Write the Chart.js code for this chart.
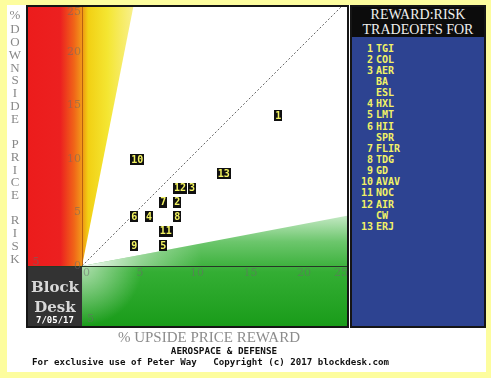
<!DOCTYPE html>
<html><head><meta charset="utf-8">
<script src="https://cdn.jsdelivr.net/npm/chart.js@4.4.0/dist/chart.umd.min.js"></script>
<style>
html,body{margin:0;padding:0;}
body{width:491px;height:378px;overflow:hidden;background:#fdfd9e;position:relative;}
#inner{position:absolute;left:7px;top:5px;width:479px;height:367px;background:#fff;}
#c{position:absolute;left:0;top:0;}
.abs{position:absolute;white-space:pre;}
.vch{position:absolute;left:5px;width:20px;text-align:center;font:13px "Liberation Serif",serif;color:#888;line-height:13px;height:13px;}
#legend{left:350px;top:5px;width:132px;height:319px;border:2px solid #151515;background:#2d4391;}
#lhead{position:absolute;left:0;top:0;width:132px;height:30px;background:#0c0c0c;color:#f0f0f0;font:14px "Liberation Serif",serif;text-align:center;line-height:15px;padding-top:0px;}
.lrow{position:absolute;height:11px;line-height:11px;font:bold 10px "DejaVu Sans Mono",monospace;color:#f2f266;}
.lnum{position:absolute;right:111px;text-align:right;}
.ltk{position:absolute;left:24px;}
#bd{left:28px;top:277px;width:54px;text-align:center;color:#d8d8d8;font:bold 15px "DejaVu Serif",serif;line-height:20px;}
#bdate{left:28px;top:315px;width:54px;text-align:center;color:#fff;font:bold 9px "DejaVu Sans Mono",monospace;}
#xt{left:0;top:329px;width:418px;text-align:center;font:15px "Liberation Serif",serif;color:#8c8c8c;}
#sub{left:0;top:345px;width:448px;text-align:center;font:bold 9.3px "DejaVu Sans Mono",monospace;color:#111;}
#copy{left:32px;top:357px;font:bold 9.15px "DejaVu Sans Mono",monospace;color:#111;}
</style></head>
<body>
<div id="inner"></div>
<canvas id="c" width="491" height="378"></canvas>
<div id="legend" class="abs"><div id="lhead">REWARD:RISK<br>TRADEOFFS FOR</div></div>
<div id="bd" class="abs">Block<br>Desk</div>
<div id="bdate" class="abs">7/05/17</div>
<div id="xt" class="abs">% UPSIDE PRICE REWARD</div>
<div id="sub" class="abs">AEROSPACE &amp; DEFENSE</div>
<div id="copy" class="abs">For exclusive use of Peter Way   Copyright (c) 2017 blockdesk.com</div>
<script>
// ---- data ----
const pointLabels = ['1','2','3','4','5','6','7','8','9','10','11','12','13'];
const upsideReward = [18.35, 8.9, 10.28, 6.26, 7.6, 4.89, 7.6, 8.9, 4.89, 5.17, 7.82, 9.16, 13.24];
const downsideRisk = [14.05, 5.95, 7.26, 4.58, 1.9, 4.58, 5.95, 4.58, 1.9, 9.93, 3.24, 7.26, 8.63];
const xTickValues = [-5, 0, 5, 10, 15, 20, 25];
const yTickValues = [-5, 0, 5, 10, 15, 20, 25];
const legendNums = ['1','2','3','','','4','5','6','','7','8','9','10','11','12','','13'];
const legendTickers = ['TGI','COL','AER','BA','ESL','HXL','LMT','HII','SPR','FLIR','TDG','GD','AVAV','NOC','AIR','CW','ERJ'];
const yAxisTitle = '% DOWNSIDE PRICE RISK';
const yellowSlope = 5.05;   // boundary of yellow wedge (risk/reward)
const greenSlope = 0.19;    // boundary of green wedge

// ---- text overlays ----
let vy = 8, prev = '';
yAxisTitle.split('').forEach(c => {
  if (c === ' ') { if (prev !== '%') vy += 12; prev = c; return; }
  const d = document.createElement('div');
  d.className = 'vch'; d.textContent = c; d.style.top = vy + 'px';
  document.body.appendChild(d);
  vy += (c === '%') ? 14 : 12.85;
  prev = c;
});
const lg = document.getElementById('legend');
legendTickers.forEach((t, i) => {
  const r = document.createElement('div');
  r.className = 'lrow';
  r.style.top = (35.5 + i * 11.15) + 'px';
  r.style.left = '0px'; r.style.width = '132px';
  r.innerHTML = '<span class="lnum">' + legendNums[i] + '</span><span class="ltk">' + t + '</span>';
  lg.appendChild(r);
});

const bgPlugin = {
  id: 'bg',
  beforeDatasetsDraw(chart) {
    const {ctx, chartArea: a, scales: {x, y}} = chart;
    const x0 = x.getPixelForValue(0), y0 = y.getPixelForValue(0);
    ctx.save();
    ctx.fillStyle = '#fff';
    ctx.fillRect(a.left, a.top, a.right - a.left, a.bottom - a.top);
    // red zone
    let g = ctx.createLinearGradient(a.left, 0, x0, 0);
    g.addColorStop(0, '#ec1c1c'); g.addColorStop(0.6, '#ec2020');
    g.addColorStop(0.85, '#f06418'); g.addColorStop(1, '#f29a1a');
    ctx.fillStyle = g;
    ctx.fillRect(a.left, a.top, x0 - a.left, y0 - a.top);
    // yellow wedge
    const xw = x.getPixelForValue(y.max / yellowSlope);
    g = ctx.createLinearGradient(x0, 0, xw, 0);
    g.addColorStop(0, '#f09410'); g.addColorStop(0.12, '#f2d014');
    g.addColorStop(0.5, '#f4e632'); g.addColorStop(1, '#f8f08c');
    ctx.fillStyle = g;
    ctx.beginPath(); ctx.moveTo(x0, y0); ctx.lineTo(x0, a.top); ctx.lineTo(xw, a.top); ctx.closePath(); ctx.fill();
    // green zone
    const yg = y.getPixelForValue(greenSlope * x.max);
    g = ctx.createLinearGradient(0, yg - 10, 0, a.bottom);
    g.addColorStop(0, '#e6f6e6'); g.addColorStop(0.3, '#6cc66c');
    g.addColorStop(0.55, '#34ae34'); g.addColorStop(1, '#1a9c1a');
    ctx.fillStyle = g;
    ctx.beginPath(); ctx.moveTo(x0, y0); ctx.lineTo(a.right, yg); ctx.lineTo(a.right, a.bottom);
    ctx.lineTo(x0, a.bottom); ctx.closePath(); ctx.fill();
    // whitish glow near origin (mostly in the wedge)
    g = ctx.createRadialGradient(x0, y0, 0, x0, y0, 120);
    g.addColorStop(0, 'rgba(255,255,255,0.95)'); g.addColorStop(0.5, 'rgba(255,255,255,0.4)');
    g.addColorStop(1, 'rgba(255,255,255,0)');
    ctx.fillStyle = g;
    ctx.beginPath(); ctx.moveTo(x0, y0); ctx.lineTo(a.right, yg); ctx.lineTo(a.right, y0); ctx.closePath(); ctx.fill();
    g = ctx.createRadialGradient(x0, y0, 0, x0, y0, 60);
    g.addColorStop(0, 'rgba(255,255,255,0.6)'); g.addColorStop(1, 'rgba(255,255,255,0)');
    ctx.fillStyle = g;
    ctx.fillRect(x0, y0, a.right - x0, a.bottom - y0);
    // block desk box
    ctx.fillStyle = '#333';
    ctx.fillRect(a.left, y0 + 1, x0 - a.left, a.bottom - y0 - 1);
    // axis lines
    ctx.strokeStyle = '#263826'; ctx.lineWidth = 1;
    ctx.beginPath(); ctx.moveTo(a.left, Math.round(y0) + 0.5); ctx.lineTo(a.right, Math.round(y0) + 0.5); ctx.stroke();
    ctx.strokeStyle = '#b86010';
    ctx.beginPath(); ctx.moveTo(Math.round(x0) + 0.5, a.top); ctx.lineTo(Math.round(x0) + 0.5, y0); ctx.stroke();
    // tick labels
    ctx.font = '11px "DejaVu Serif", serif';
    ctx.fillStyle = 'rgba(105,105,105,0.55)';
    ctx.textBaseline = 'middle';
    yTickValues.forEach(v => {
      let py = y.getPixelForValue(v);
      if (v < 0) { ctx.textAlign = 'left'; ctx.fillText(String(-v), x0 + 5, py); return; }
      py = Math.max(py, a.top + 5);
      ctx.textAlign = 'right'; ctx.fillText(String(v), x0 - 1, py);
    });
    xTickValues.forEach(v => {
      let px = x.getPixelForValue(v);
      ctx.textAlign = 'left';
      if (v < 0) { ctx.fillText(String(-v), px + 4, y0 - 4); return; }
      px = Math.min(px, a.right - 14);
      ctx.fillText(String(v), px + 1, y0 + 7);
    });
    ctx.restore();
  },
  afterDatasetsDraw(chart) {
    const {ctx, chartArea: a} = chart;
    const meta = chart.getDatasetMeta(0);
    ctx.save();
    ctx.font = 'bold 10px "DejaVu Sans Mono", monospace';
    ctx.textAlign = 'center'; ctx.textBaseline = 'middle';
    meta.data.forEach((pt, i) => {
      const t = pointLabels[i];
      const w = ctx.measureText(t).width + 2;
      ctx.fillStyle = '#101010';
      ctx.fillRect(Math.round(pt.x - w / 2), Math.round(pt.y - 5.5), Math.round(w), 11);
      ctx.fillStyle = '#f4f460';
      ctx.fillText(t, pt.x, pt.y + 0.5);
    });
    // frame
    ctx.strokeStyle = '#151515'; ctx.lineWidth = 2;
    ctx.strokeRect(a.left - 1, a.top - 1, a.right - a.left + 2, a.bottom - a.top + 2);
    ctx.restore();
  }
};

const pts = upsideReward.map((v, i) => ({x: v, y: downsideRisk[i]}));
new Chart(document.getElementById('c'), {
  type: 'scatter',
  data: {
    datasets: [
      {data: pts, pointRadius: 0, pointHoverRadius: 0, backgroundColor: '#000'},
      {data: [{x: 0, y: 0}, {x: 30, y: 30}], showLine: true, pointRadius: 0,
       borderColor: '#666', borderWidth: 1, borderDash: [2, 2]}
    ]
  },
  options: {
    responsive: false, animation: false, devicePixelRatio: 1,
    layout: {padding: {left: 28, top: 7, right: 144, bottom: 52}},
    plugins: {legend: {display: false}, tooltip: {enabled: false}},
    events: [],
    scales: {
      x: {type: 'linear', display: false, min: -5.05, max: 24.77},
      y: {type: 'linear', display: false, min: -5.61, max: 24.21}
    }
  },
  plugins: [bgPlugin]
});
</script>
</body></html>
